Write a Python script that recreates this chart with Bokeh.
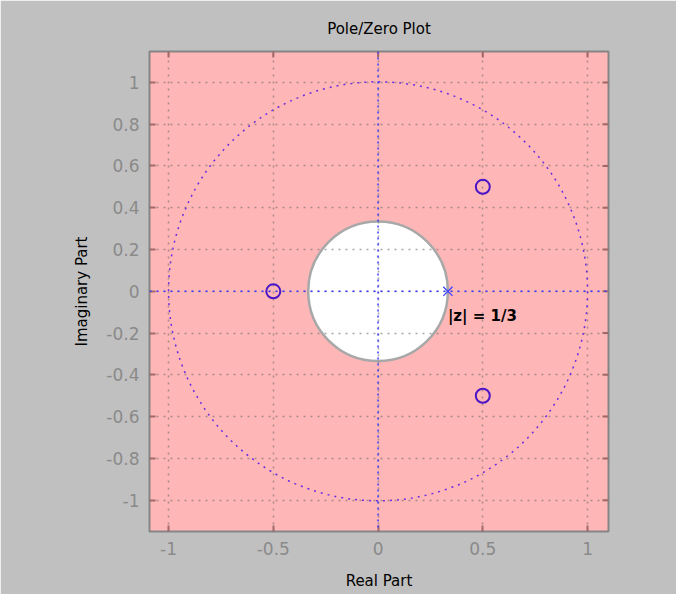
import math
from bokeh.plotting import figure
from bokeh.models import Range1d, FixedTicker, Span
from bokeh.core.properties import value
from bokeh.embed import file_html
from bokeh.resources import INLINE

# data
zeros_re = [-0.5, 0.5, 0.5]
zeros_im = [0.0, 0.5, -0.5]
poles_re = [1 / 3]
poles_im = [0.0]
unit_radius = 1.0
roc_radius = 1 / 3
x_ticks = [-1, -0.5, 0, 0.5, 1]
x_tick_labels = ["-1", "-0.5", "0", "0.5", "1"]
y_ticks = [-1, -0.8, -0.6, -0.4, -0.2, 0, 0.2, 0.4, 0.6, 0.8, 1]
y_tick_labels = ["-1", "-0.8", "-0.6", "-0.4", "-0.2", "0", "0.2", "0.4", "0.6", "0.8", "1"]
annotation = "|z| = 1/3"
x_lim = (-1.091, 1.100)
y_lim = (-1.150, 1.148)

FONT = "DejaVu Sans"
TICK_COLOR = "#a06a6a"

p = figure(width=676, height=594, output_backend="svg", toolbar_location=None,
           x_range=Range1d(*x_lim), y_range=Range1d(*y_lim),
           min_border_left=149, min_border_right=68, min_border_top=51, min_border_bottom=63,
           title="Pole/Zero Plot", x_axis_label="Real Part", y_axis_label="Imaginary Part")

p.background_fill_color = "#ffb6b6"
p.border_fill_color = "#c0c0c0"
p.outline_line_color = "#858585"
p.outline_line_width = 2

p.title.align = "center"
p.title.text_font = FONT
p.title.text_font_size = "15px"
p.title.text_font_style = "normal"
p.title.text_color = "black"
p.title.standoff = 27

xfmt = dict(zip([float(t) for t in x_ticks], x_tick_labels))
yfmt = dict(zip([float(t) for t in y_ticks], y_tick_labels))

for ax in p.xaxis:
    ax.ticker = FixedTicker(ticks=x_ticks)
    ax.major_label_overrides = xfmt
for ax in p.yaxis:
    ax.ticker = FixedTicker(ticks=y_ticks)
    ax.major_label_overrides = yfmt

for ax in list(p.xaxis) + list(p.yaxis):
    ax.axis_line_color = None
    ax.major_tick_in = 6
    ax.major_tick_out = 0
    ax.major_tick_line_color = TICK_COLOR
    ax.major_tick_line_width = 2
    ax.minor_tick_line_color = None
    ax.major_label_text_font = FONT
    ax.major_label_text_font_size = "17px"
    ax.major_label_text_color = "#8a8a8a"
    ax.major_label_standoff = 10
    ax.axis_label_text_font = FONT
    ax.axis_label_text_font_size = "15px"
    ax.axis_label_text_font_style = "normal"
    ax.axis_label_text_color = "black"
p.xaxis.axis_label_standoff = 14
p.yaxis.axis_label_standoff = 12

# grid
p.xgrid.ticker = FixedTicker(ticks=x_ticks)
p.ygrid.ticker = FixedTicker(ticks=y_ticks)
for g in (p.xgrid, p.ygrid):
    g.grid_line_color = "#6e6e6e"
    g.grid_line_alpha = 0.6
    g.grid_line_dash = "2 5"
    g.grid_line_width = 1.5

# mirrored tick marks on the top and right edges of the box (clipped to the frame)
p.scatter(x=x_ticks, y=[y_lim[1]] * len(x_ticks), marker="dash", angle=math.pi / 2,
          size=12, line_color=TICK_COLOR, line_width=2)
p.scatter(x=[x_lim[1]] * len(y_ticks), y=y_ticks, marker="dash",
          size=12, line_color=TICK_COLOR, line_width=2)

# region excluded from the ROC (white disc)
p.circle(x=[0], y=[0], radius=roc_radius, fill_color="white", line_color="#a8a8a8",
         line_width=2.5, level="image")

# unit circle
p.circle(x=[0], y=[0], radius=unit_radius, fill_color=None, line_color="#6a2ee0",
         line_dash="2 5", line_width=1.5)

# zero axes
p.add_layout(Span(location=0, dimension="width", line_color="#3c3cff", line_dash="2 5", line_width=1.5))
p.add_layout(Span(location=0, dimension="height", line_color="#3c3cff", line_dash="2 4", line_width=1.5))

# zeros
p.scatter(x=zeros_re, y=zeros_im, marker="circle", size=14, fill_color=None,
          line_color="#4a14c8", line_width=2)
# poles
p.scatter(x=poles_re, y=poles_im, marker="x", size=13, line_color="#4040ff", line_width=1.3)

# annotation
p.text(x=[poles_re[0]], y=[-0.12], text=[annotation], text_font=value(FONT),
       text_font_size="15px", text_font_style="bold", text_color="black",
       text_align="left", text_baseline="middle")

open("out.html", "w").write(file_html(p, INLINE))
